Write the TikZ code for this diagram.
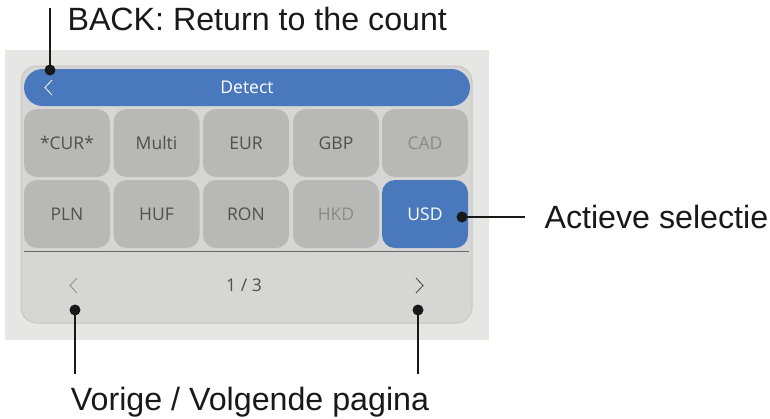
\documentclass[tikz,border=0pt]{standalone}
\usepackage{fontspec}
\setmainfont{Liberation Sans}
\newfontfamily\uifont{Open Sans}
\definecolor{outerbg}{HTML}{E6E6E5}
\definecolor{panelbg}{HTML}{D6D6D5}
\definecolor{panelbd}{HTML}{C6C6C5}
\definecolor{btnbg}{HTML}{B8B8B6}
\definecolor{uiblue}{HTML}{4A78BD}
\definecolor{btntxt}{HTML}{505050}
\definecolor{btndim}{HTML}{8A8A8A}
\begin{document}
\begin{tikzpicture}[x=1pt,y=-1pt,
  btn/.style={fill=btnbg,rounded corners=13pt,minimum width=86pt,minimum height=68pt,inner sep=0pt,font=\uifont\fontsize{17.5}{17.5}\selectfont,text=btntxt},
  btnsel/.style={btn,fill=uiblue,text=white},
  btndimmed/.style={btn,text=btndim},
  callout/.style={font=\fontsize{32.2}{32.2}\selectfont,text=black!90},
  lead/.style={line width=2pt,black!90},
  dot/.style={circle,fill=black!90,inner sep=0pt,minimum size=11pt}]
\useasboundingbox (0,0) rectangle (770,418);
\fill[outerbg] (5,50) rectangle (489,340);
\draw[panelbd,fill=panelbg,line width=1pt,rounded corners=16pt] (21,66) rectangle (472,323);
\fill[uiblue,rounded corners=18.5pt] (24,69) rectangle (470,106);
\node[text=white,font=\uifont\fontsize{17.5}{17.5}\selectfont] (title) at (247,87.5) {Detect};
\draw[white,line width=0.8pt] (52,80) -- (45,87.5) -- (52,95);
% buttons
\node[btn] (cur) at (67,143) {*CUR*};
\node[btn] (multi) at (156.5,143) {Multi};
\node[btn] (eur) at (246,143) {EUR};
\node[btn] (gbp) at (336,143) {GBP};
\node[btndimmed] (cad) at (425,143) {CAD};
\node[btn] (pln) at (67,214) {PLN};
\node[btn] (huf) at (156.5,214) {HUF};
\node[btn] (ron) at (246,214) {RON};
\node[btndimmed] (hkd) at (336,214) {HKD};
\node[btnsel] (usd) at (425,214) {USD};
\draw[black!60,line width=1pt] (24,251) -- (469,251);
% pager
\draw[black!45,line width=0.8pt] (77,278) -- (70,285.5) -- (77,293);
\node[font=\uifont\fontsize{17.5}{17.5}\selectfont,text=btntxt] (page) at (244,285) {1 / 3};
\draw[black!75,line width=0.8pt] (416,278) -- (423,285.5) -- (416,293);
% callouts
\node[dot] (d1) at (50,70) {};
\coordinate (t1) at (50,8);
\draw[lead] (d1.center) -- (t1);
\node[callout,anchor=base west] (backlbl) at (64,30) {BACK: Return to the count};
\node[dot] (d2) at (462,217) {};
\coordinate (t2) at (525,217);
\draw[lead] (d2.center) -- (t2);
\node[callout,anchor=west] (actlbl) at (541,217) {Actieve selectie};
\node[dot] (d3) at (75,310) {};
\node[dot] (d4) at (418,310) {};
\coordinate (t3) at (75,374);
\coordinate (t4) at (418,374);
\draw[lead] (d3.center) -- (t3);
\draw[lead] (d4.center) -- (t4);
\node[callout,anchor=base] (pglbl) at (250,410) {Vorige / Volgende pagina};
\end{tikzpicture}
\end{document}
